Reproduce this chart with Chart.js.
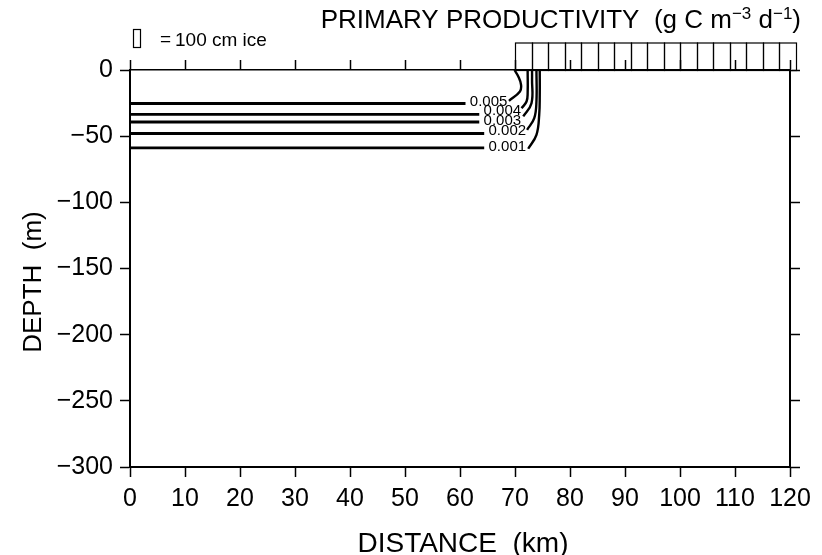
<!DOCTYPE html>
<html>
<head>
<meta charset="utf-8">
<script src="https://cdn.jsdelivr.net/npm/chart.js@4/dist/chart.umd.min.js"></script>
<style>
  html, body { margin: 0; padding: 0; background: #fff; }
  #wrap { width: 822px; height: 555px; }
</style>
</head>
<body>
<div id="wrap"><canvas id="c" width="822" height="555"></canvas></div>
<script>
// ---- Data ----
const xTicks = [0, 10, 20, 30, 40, 50, 60, 70, 80, 90, 100, 110, 120];   // km
const yTicks = [0, -50, -100, -150, -200, -250, -300];                 // m

const levels    = ['0.005', '0.004', '0.003', '0.002', '0.001'];
// horizontal part of each contour (from 0 km to where its label begins)
const lineDepth = [-25.3, -33.6, -39.3, -48.0, -58.8];
const lineEnd   = [61.0, 63.5, 63.5, 64.4, 64.4];
// label centres (km, m)
const labelX    = [65.2, 67.7, 67.7, 68.6, 68.6];
const labelY    = [-24.3, -31.1, -38.2, -46.2, -58.0];
// curved part of each contour, from label end up to the surface
const curveX = [
  [68.9, 70.9, 71.1, 70.6, 69.9],
  [71.2, 72.1, 72.3, 72.3],
  [71.5, 73.0, 73.1, 73.1],
  [72.2, 73.5, 73.9, 73.9],
  [72.4, 73.9, 74.4, 74.5, 74.5]
];
const curveY = [
  [-23.3, -16.2, -11.2, -4.9, 0],
  [-28.9, -23.8, -17.5, 0],
  [-35.1, -25.1, -7.2, 0],
  [-45.2, -36.4, -23.8, 0],
  [-59.5, -49.0, -33.9, -18.7, 0]
];
// sea-ice boxes (edges in km, thickness in cm)
const iceEdges     = [70, 73, 76, 79, 82, 85, 88, 91, 94, 97, 100, 103, 106, 109, 112, 115, 118, 121];
const iceThickness = [100, 100, 100, 100, 100, 100, 100, 100, 100, 100, 100, 100, 100, 100, 100, 100, 100];

// ---- Build datasets ----
const datasets = [];
levels.forEach((lv, i) => {
  datasets.push({
    label: lv + ' flat',
    data: [{x: 0, y: lineDepth[i]}, {x: lineEnd[i], y: lineDepth[i]}],
    showLine: true, borderColor: '#000', borderWidth: 2.8, pointRadius: 0, tension: 0
  });
  datasets.push({
    label: lv + ' curve',
    data: curveX[i].map((x, k) => ({x: x, y: curveY[i][k]})),
    showLine: true, borderColor: '#000', borderWidth: 2.4, pointRadius: 0, tension: 0.4
  });
});

const FONT = '"Liberation Sans", Arial, Helvetica, sans-serif';
const PX_PER_CM_ICE = 0.275;

const overlay = {
  id: 'overlay',
  afterDatasetsDraw(chart) {
    const ctx = chart.ctx;
    const xs = chart.scales.x, ys = chart.scales.y;
    const top = chart.chartArea.top;
    ctx.save();
    // ice boxes
    ctx.strokeStyle = '#000';
    ctx.lineWidth = 1.2;
    for (let i = 0; i < iceThickness.length; i++) {
      const x0 = xs.getPixelForValue(iceEdges[i]);
      const x1 = xs.getPixelForValue(iceEdges[i + 1]);
      const h = iceThickness[i] * PX_PER_CM_ICE;
      ctx.strokeRect(Math.round(x0) + 0.5, top - h + 0.5, Math.round(x1) - Math.round(x0), h);
    }
    // contour labels
    ctx.fillStyle = '#000';
    ctx.font = '15px ' + FONT;
    ctx.textAlign = 'center';
    ctx.textBaseline = 'middle';
    levels.forEach((lv, i) => {
      ctx.fillText(lv, xs.getPixelForValue(labelX[i]), ys.getPixelForValue(labelY[i]));
    });
    ctx.restore();
  },
  afterDraw(chart) {
    const ctx = chart.ctx;
    ctx.save();
    ctx.fillStyle = '#000';
    ctx.textBaseline = 'alphabetic';
    // main title with superscripts, right aligned
    const big = '26px ' + FONT, small = '17px ' + FONT;
    const parts = [
      ['PRIMARY PRODUCTIVITY  (g C m', big, 0],
      ['\u22123', small, -9],
      [' d', big, 0],
      ['\u22121', small, -9],
      [')', big, 0]
    ];
    let total = 0;
    parts.forEach(p => { ctx.font = p[1]; total += ctx.measureText(p[0]).width; });
    let x = 801 - total;
    parts.forEach(p => { ctx.font = p[1]; ctx.fillText(p[0], x, 28 + p[2]); x += ctx.measureText(p[0]).width; });
    // legend for ice
    ctx.strokeStyle = '#000';
    ctx.lineWidth = 1.2;
    ctx.strokeRect(133.5, 29.5, 7, 18);
    ctx.font = '19px ' + FONT;
    ctx.textAlign = 'left';
    ctx.fillText('=', 160, 45);
    ctx.fillText('100 cm ice', 175, 46);
    // axis titles
    ctx.font = '28px ' + FONT;
    ctx.textAlign = 'center';
    ctx.fillText('DISTANCE  (km)', 463, 552);
    ctx.font = '26px ' + FONT;
    ctx.translate(41, 282);
    ctx.rotate(-Math.PI / 2);
    ctx.fillText('DEPTH  (m)', 0, 0);
    ctx.restore();
  }
};

const tickFont = { family: FONT, size: 25 };
const minusFmt = v => String(v).replace('-', '\u2212');

new Chart(document.getElementById('c'), {
  type: 'scatter',
  data: { datasets },
  options: {
    responsive: false,
    animation: false,
    events: [],
    layout: { padding: 0 },
    plugins: { legend: { display: false }, tooltip: { enabled: false }, title: { display: false } },
    scales: {
      x: {
        type: 'linear', position: 'bottom', min: 0, max: 120,
        afterBuildTicks: s => { s.ticks = xTicks.map(v => ({value: v})); },
        ticks: { font: tickFont, color: '#000', padding: 7, maxRotation: 0, autoSkip: false },
        grid: { drawOnChartArea: false, drawTicks: true, tickLength: 10, tickWidth: 1.5, tickColor: '#000' },
        border: { display: true, color: '#000', width: 2 },
        afterFit: s => { s.height = 88; }
      },
      x2: {
        type: 'linear', position: 'top', min: 0, max: 120,
        afterBuildTicks: s => { s.ticks = xTicks.map(v => ({value: v})); },
        ticks: { display: false },
        grid: { drawOnChartArea: false, drawTicks: true, tickLength: 10, tickWidth: 1.5, tickColor: '#000' },
        border: { display: true, color: '#000', width: 1.5 },
        afterFit: s => { s.height = 70; }
      },
      y: {
        type: 'linear', position: 'left', min: -300, max: 0,
        afterBuildTicks: s => { s.ticks = yTicks.map(v => ({value: v})); },
        ticks: { font: tickFont, color: '#000', padding: 7, callback: minusFmt },
        grid: { drawOnChartArea: false, drawTicks: true, tickLength: 10, tickWidth: 1.5, tickColor: '#000' },
        border: { display: true, color: '#000', width: 2 },
        afterFit: s => { s.width = 130; }
      },
      y2: {
        type: 'linear', position: 'right', min: -300, max: 0,
        afterBuildTicks: s => { s.ticks = yTicks.map(v => ({value: v})); },
        ticks: { display: false },
        grid: { drawOnChartArea: false, drawTicks: true, tickLength: 10, tickWidth: 1.5, tickColor: '#000' },
        border: { display: true, color: '#000', width: 2 },
        afterFit: s => { s.width = 32; }
      }
    }
  },
  plugins: [overlay]
});
</script>
</body>
</html>
